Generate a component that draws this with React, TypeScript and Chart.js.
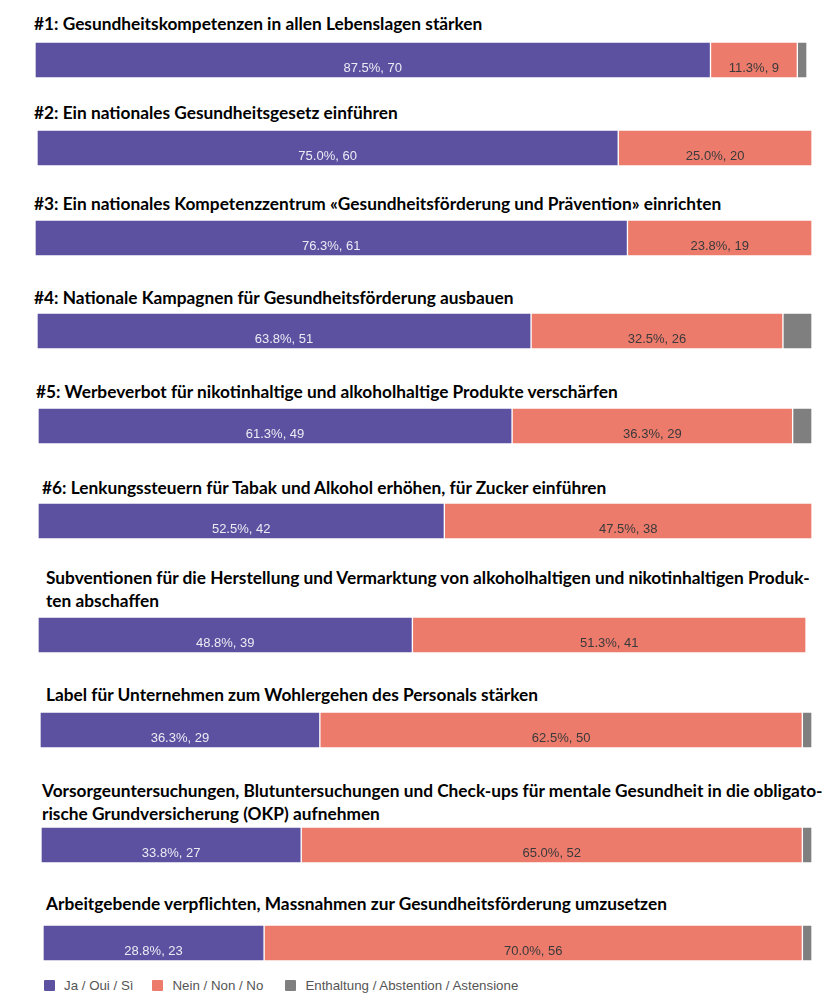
import React, { useEffect, useRef } from "react";
import { Chart, registerables } from "chart.js";

Chart.register(...registerables);

const titles: string[][] = [
  ["#1: Gesundheitskompetenzen in allen Lebenslagen stärken"],
  ["#2: Ein nationales Gesundheitsgesetz einführen"],
  ["#3: Ein nationales Kompetenzzentrum «Gesundheitsförderung und Prävention» einrichten"],
  ["#4: Nationale Kampagnen für Gesundheitsförderung ausbauen"],
  ["#5: Werbeverbot für nikotinhaltige und alkoholhaltige Produkte verschärfen"],
  ["#6: Lenkungssteuern für Tabak und Alkohol erhöhen, für Zucker einführen"],
  ["Subventionen für die Herstellung und Vermarktung von alkoholhaltigen und nikotinhaltigen Produk-", "ten abschaffen"],
  ["Label für Unternehmen zum Wohlergehen des Personals stärken"],
  ["Vorsorgeuntersuchungen, Blutuntersuchungen und Check-ups für mentale Gesundheit in die obligato-", "rische Grundversicherung (OKP) aufnehmen"],
  ["Arbeitgebende verpflichten, Massnahmen zur Gesundheitsförderung umzusetzen"],
];

const seriesNames = ["Ja / Oui / Sì", "Nein / Non / No", "Enthaltung / Abstention / Astensione"];
const jaCounts = [70, 60, 61, 51, 49, 42, 39, 29, 27, 23];
const neinCounts = [9, 20, 19, 26, 29, 38, 41, 50, 52, 56];
const enthCounts = [1, 0, 0, 3, 2, 0, 0, 1, 1, 1];
const jaPct = ["87.5%", "75.0%", "76.3%", "63.8%", "61.3%", "52.5%", "48.8%", "36.3%", "33.8%", "28.8%"];
const neinPct = ["11.3%", "25.0%", "23.8%", "32.5%", "36.3%", "47.5%", "51.3%", "62.5%", "65.0%", "70.0%"];
const totalVotes = 80;

const colors = ["#5b51a0", "#ec7b6c", "#7f7f7f"];
const labelColors = ["#ecebf4", "#3a3a3a"];

// layout of each block: title top/left, bar top/left/width
const layout = [
  { tt: 11.5, tl: 34, bt: 42, bl: 35, bw: 772 },
  { tt: 100.5, tl: 34, bt: 130, bl: 37, bw: 775 },
  { tt: 191.5, tl: 34, bt: 220, bl: 35, bw: 777 },
  { tt: 285.5, tl: 34, bt: 313, bl: 37, bw: 775 },
  { tt: 379.5, tl: 36, bt: 408, bl: 38, bw: 774 },
  { tt: 475.5, tl: 42, bt: 503, bl: 38, bw: 774 },
  { tt: 565.5, tl: 46, bt: 617, bl: 38, bw: 768 },
  { tt: 682.5, tl: 46, bt: 712, bl: 40, bw: 772 },
  { tt: 778.5, tl: 42, bt: 827, bl: 41, bw: 771 },
  { tt: 891.5, tl: 46, bt: 925, bl: 43, bw: 769 },
];
const barHeight = 36;

const labelPlugin = {
  id: "segLabels",
  afterDatasetsDraw(chart: any) {
    const ctx = chart.ctx;
    const texts: string[] = chart.options.plugins.segLabels.texts;
    ctx.save();
    ctx.font = "13px 'Liberation Sans', Arial, sans-serif";
    ctx.textAlign = "center";
    ctx.textBaseline = "middle";
    [0, 1].forEach((di) => {
      const meta = chart.getDatasetMeta(di);
      meta.data.forEach((bar: any) => {
        const t = texts[di];
        if (!t) return;
        const x = (bar.base + bar.x) / 2;
        const top = bar.y - bar.height / 2;
        ctx.fillStyle = labelColors[di];
        ctx.fillText(t, x, top + 26);
      });
    });
    ctx.restore();
  },
};

function BarBlock({ i }: { i: number }) {
  const ref = useRef<HTMLCanvasElement>(null);
  useEffect(() => {
    if (!ref.current) return;
    const counts = [jaCounts[i], neinCounts[i], enthCounts[i]];
    const chart = new Chart(ref.current, {
      type: "bar",
      data: {
        labels: [titles[i].join(" ")],
        datasets: counts.map((v, k) => ({
          label: seriesNames[k],
          data: [v],
          backgroundColor: colors[k],
          borderColor: "rgba(255,255,255,0.9)",
          borderWidth: v > 0 ? 1 : 0,
          borderSkipped: false,
          barPercentage: 1,
          categoryPercentage: 1,
        })),
      },
      options: {
        indexAxis: "y",
        animation: false,
        responsive: true,
        maintainAspectRatio: false,
        layout: { padding: 0 },
        scales: {
          x: { stacked: true, display: false, min: 0, max: totalVotes },
          y: { stacked: true, display: false },
        },
        plugins: {
          legend: { display: false },
          tooltip: { enabled: false },
          segLabels: {
            texts: [`${jaPct[i]}, ${jaCounts[i]}`, `${neinPct[i]}, ${neinCounts[i]}`],
          },
        } as any,
      },
      plugins: [labelPlugin],
    });
    return () => chart.destroy();
  }, [i]);
  const l = layout[i];
  return (
    <>
      <div
        style={{
          position: "absolute",
          top: l.tt,
          left: l.tl,
          fontFamily: "Lato, 'Open Sans', sans-serif",
          fontWeight: 700,
          fontSize: 17.3,
          lineHeight: "23px",
          color: "#000",
          whiteSpace: "nowrap",
        }}
      >
        {titles[i].map((line, k) => (
          <div key={k}>{line}</div>
        ))}
      </div>
      <div style={{ position: "absolute", top: l.bt, left: l.bl, width: l.bw, height: barHeight }}>
        <canvas ref={ref} />
      </div>
    </>
  );
}

export default function App() {
  return (
    <div style={{ position: "absolute", left: 0, top: 0, width: 839, height: 1000, background: "#fff" }}>
      {titles.map((_, i) => (
        <BarBlock key={i} i={i} />
      ))}
      <div
        style={{
          position: "absolute",
          top: 978,
          left: 44,
          display: "flex",
          alignItems: "center",
          fontFamily: "'Liberation Sans', Arial, sans-serif",
          fontSize: 13.3,
          color: "#555",
        }}
      >
        {seriesNames.map((n, k) => (
          <div key={k} style={{ display: "flex", alignItems: "center", marginRight: k === 0 ? 19 : 22 }}>
            <span
              style={{
                display: "inline-block",
                width: 11,
                height: 11,
                background: colors[k],
                marginRight: 9,
                borderRadius: 1,
              }}
            />
            {n}
          </div>
        ))}
      </div>
    </div>
  );
}
